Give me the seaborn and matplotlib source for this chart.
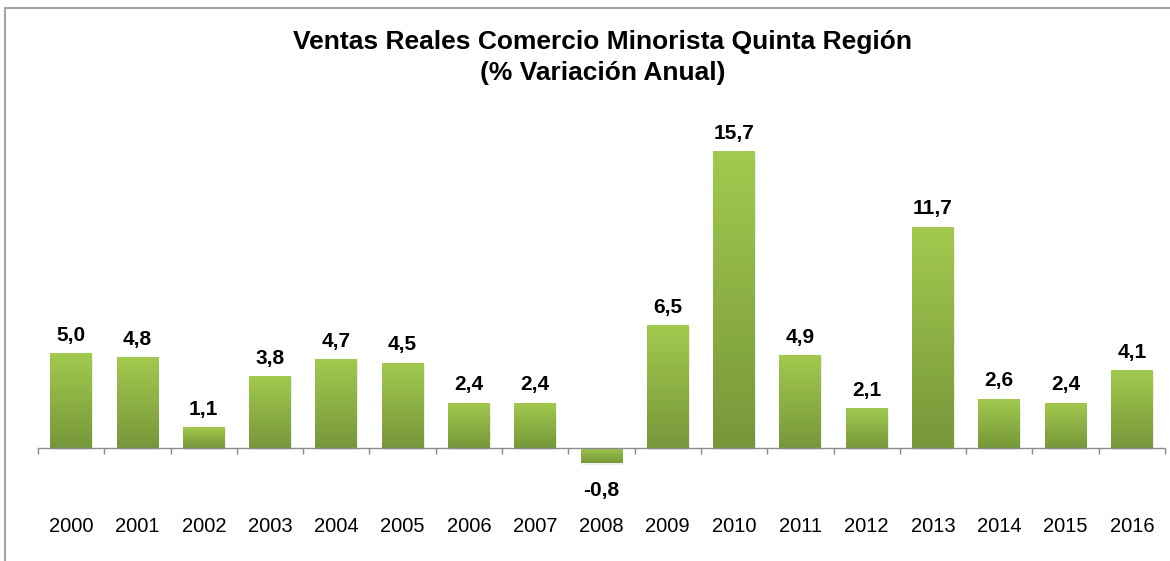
"""Ventas reales comercio minorista, Quinta Region - bar chart."""

import numpy as np
import pandas as pd
import matplotlib
matplotlib.use('Agg')
import matplotlib.pyplot as plt
from matplotlib.colors import LinearSegmentedColormap
from matplotlib.patches import Rectangle
import seaborn as sns

years = ['2000', '2001', '2002', '2003', '2004', '2005', '2006', '2007', '2008',
         '2009', '2010', '2011', '2012', '2013', '2014', '2015', '2016']
variation = [5.0, 4.8, 1.1, 3.8, 4.7, 4.5, 2.4, 2.4, -0.8,
             6.5, 15.7, 4.9, 2.1, 11.7, 2.6, 2.4, 4.1]

title = 'Ventas Reales Comercio Minorista Quinta Región\n(% Variación Anual)'


def fmt(v):
    return f'{v:.1f}'.replace('.', ',')


def main():
    sns.set_theme(style='white')
    plt.rcParams['font.family'] = ['Liberation Sans', 'DejaVu Sans']

    df = pd.DataFrame({'year': years, 'value': variation})

    fig = plt.figure(figsize=(11.7, 5.61), dpi=100)
    ax = fig.add_axes([0.0325, 0.1444, 0.9632, 0.6773])

    sns.barplot(data=df, x='year', y='value', color='#8fbc45', width=0.63,
                ax=ax, saturation=1)

    # gradient fill for each bar
    cmap = LinearSegmentedColormap.from_list('grn', ['#a2ca4e', '#76973a'])
    grad = np.linspace(0, 1, 256).reshape(-1, 1)
    for p in ax.patches:
        x0, y0 = p.get_x(), p.get_y()
        w, h = p.get_width(), p.get_height()
        ylo, yhi = min(y0, y0 + h), max(y0, y0 + h)
        # soft shadow
        ax.add_patch(Rectangle((x0 + 0.015, ylo - 0.1), w, yhi - ylo,
                               facecolor='#d0d0d0', edgecolor='none',
                               alpha=0.35, zorder=1))
        p.set_facecolor('none')
        p.set_edgecolor('none')
        im = ax.imshow(grad, cmap=cmap, aspect='auto', origin='upper',
                       extent=(x0, x0 + w, ylo, yhi), zorder=2)
        im.set_clip_path(p)

    for i, v in enumerate(variation):
        if v >= 0:
            ax.text(i, v + 0.45, fmt(v), ha='center', va='bottom',
                    fontsize=15, fontweight='bold', color='#000000')
        else:
            ax.text(i, v - 0.95, fmt(v), ha='center', va='top',
                    fontsize=15, fontweight='bold', color='#000000')

    ax.set_xlim(-0.5, len(years) - 0.5)
    ax.set_ylim(-1.69, 18.4)
    ax.set_xlabel('')
    ax.set_ylabel('')
    ax.set_yticks([])

    for s in ['top', 'right', 'left']:
        ax.spines[s].set_visible(False)
    ax.spines['bottom'].set_position(('data', 0))
    ax.spines['bottom'].set_color('#8c8c8c')
    ax.spines['bottom'].set_linewidth(1.0)
    ax.spines['bottom'].set_zorder(3)

    ax.set_xticks(np.arange(-0.5, len(years), 1.0), minor=True)
    ax.tick_params(axis='x', which='minor', direction='out', length=4,
                   color='#8c8c8c', width=1, bottom=True)
    ax.tick_params(axis='x', which='major', length=0, pad=50,
                   labelsize=14.5, labelcolor='#000000')

    fig.text(0.515, 0.898, title, ha='center', va='center', fontsize=19,
             fontweight='bold', color='#000000', linespacing=1.35)

    # outer frame of the chart area
    fig.patches.append(Rectangle((5 / 1170, -0.1), 1.2, 1.1 - 8 / 561,
                                 transform=fig.transFigure, fill=False,
                                 edgecolor='#a6a6a6', linewidth=1.5))

    fig.savefig('out.png', dpi=100)
    plt.close(fig)


if __name__ == '__main__':
    main()
